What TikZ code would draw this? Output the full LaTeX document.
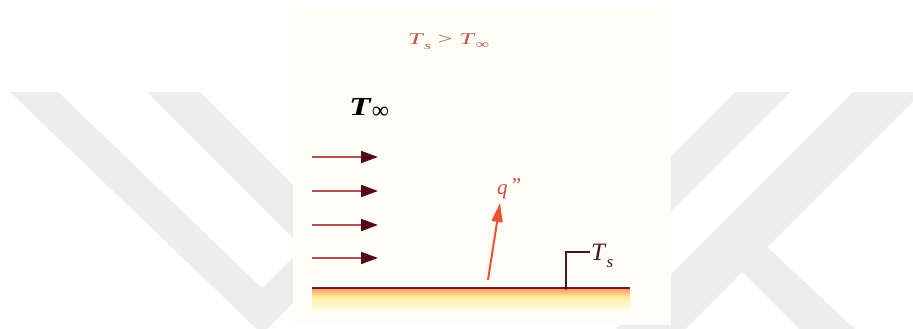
\documentclass[tikz,border=0pt]{standalone}
\usepackage{fontspec}
\usepackage{graphicx}
\setmainfont{Liberation Serif}
\usetikzlibrary{arrows.meta}
\definecolor{panel}{RGB}{255,254,246}
\definecolor{wm}{RGB}{237,237,237}
\definecolor{maroon}{RGB}{125,22,38}
\definecolor{headc}{RGB}{85,8,28}
\definecolor{flowc}{RGB}{180,78,82}
\definecolor{heatc}{RGB}{240,80,58}
\definecolor{toptxt}{RGB}{190,88,78}
\definecolor{qtxt}{RGB}{200,75,62}
\definecolor{tstxt}{RGB}{70,25,32}
\definecolor{glow}{RGB}{246,160,95}
\definecolor{glowmid}{RGB}{255,238,160}
\tikzset{
  wmark/.style={fill=wm, draw=none},
  flowline/.style={draw=flowc, line width=1.9pt,
    -{Triangle[length=17pt,width=12pt,color=headc]}},
  heatline/.style={draw=heatc, line width=2pt,
    -{Triangle[length=19pt,width=11pt,color=heatc]}},
  lbl/.style={inner sep=0pt, anchor=base west},
}
\begin{document}
\begin{tikzpicture}[x=1pt,y=-1pt]
\useasboundingbox (0,0) rectangle (913,329);
\fill[white] (0,0) rectangle (913,329);
% watermark
\begin{scope}
\clip (0,0) rectangle (913,329);
\fill[wmark] (10,92) -- (58,92) -- (262,288) -- (458,92) -- (504,92) -- (262,334) -- cycle;
\fill[wmark] (147,92) -- (200,92) -- (400,292) -- (347,292) -- cycle;
\fill[wmark] (735,92) -- (790,92) -- (640,242) -- (585,242) -- cycle;
\fill[wmark] (853,92) -- (922,92) -- (685,329) -- (616,329) -- cycle;
\fill[wmark] (767,247) -- (855,329) -- (799,329) -- (740,270) -- cycle;
\end{scope}
% cream panel
\fill[panel] (293,9) rectangle (671,325);
% glow under the surface
\shade[top color=glow, bottom color=glowmid] (312,289) rectangle (630,297);
\shade[top color=glowmid, bottom color=panel] (312,297) rectangle (630,313);
% surface
\coordinate (gl) at (312,288);
\coordinate (gr) at (630,288);
\draw[maroon, line width=2.8pt] (gl) -- (gr);
% free-stream arrows
\foreach \i/\y in {1/157,2/191,3/225,4/258}{
  \coordinate (fs\i) at (312,\y);
  \coordinate (fe\i) at (378,\y);
  \draw[flowline] (fs\i) -- (fe\i);
}
% heat flux arrow
\coordinate (qs) at (488,280);
\coordinate (qe) at (500,203);
\draw[heatline] (qs) -- (qe);
\node[lbl, text=qtxt, font=\fontsize{21}{24}\selectfont] (qlab) at (497,194)
  {\textit{q}\kern2pt\raisebox{0.05em}{\textit{\char"22}}};
% surface temperature marker
\coordinate (tsb) at (566,288);
\coordinate (tst) at (590,252);
\draw[tstxt, line width=1.4pt] (tsb) |- (tst);
\fill[tstxt] (tsb) circle (1.8);
\node[lbl, text=tstxt, font=\fontsize{25}{28}\selectfont] (tslab) at (591,260)
  {\textit{T}\raisebox{-0.28em}{\fontsize{17}{18}\selectfont\textit{s}}};
% T infinity
\node[lbl, font=\fontsize{26}{30}\selectfont] (tinf) at (349,115)
  {\scalebox{1.35}[1]{\textbf{\textit{T}}}\raisebox{-0.12em}{\fontsize{24}{26}\selectfont ∞}};
% condition
\node[lbl, text=toptxt, font=\fontsize{16.5}{19}\selectfont] (cond) at (408,45)
  {\scalebox{1.6}[1]{\textit{T}\raisebox{-0.3em}{\fontsize{11}{12}\selectfont\textit{s}}\ >\ \textit{T}\raisebox{-0.2em}{\fontsize{12}{13}\selectfont ∞}}};
\end{tikzpicture}
\end{document}
